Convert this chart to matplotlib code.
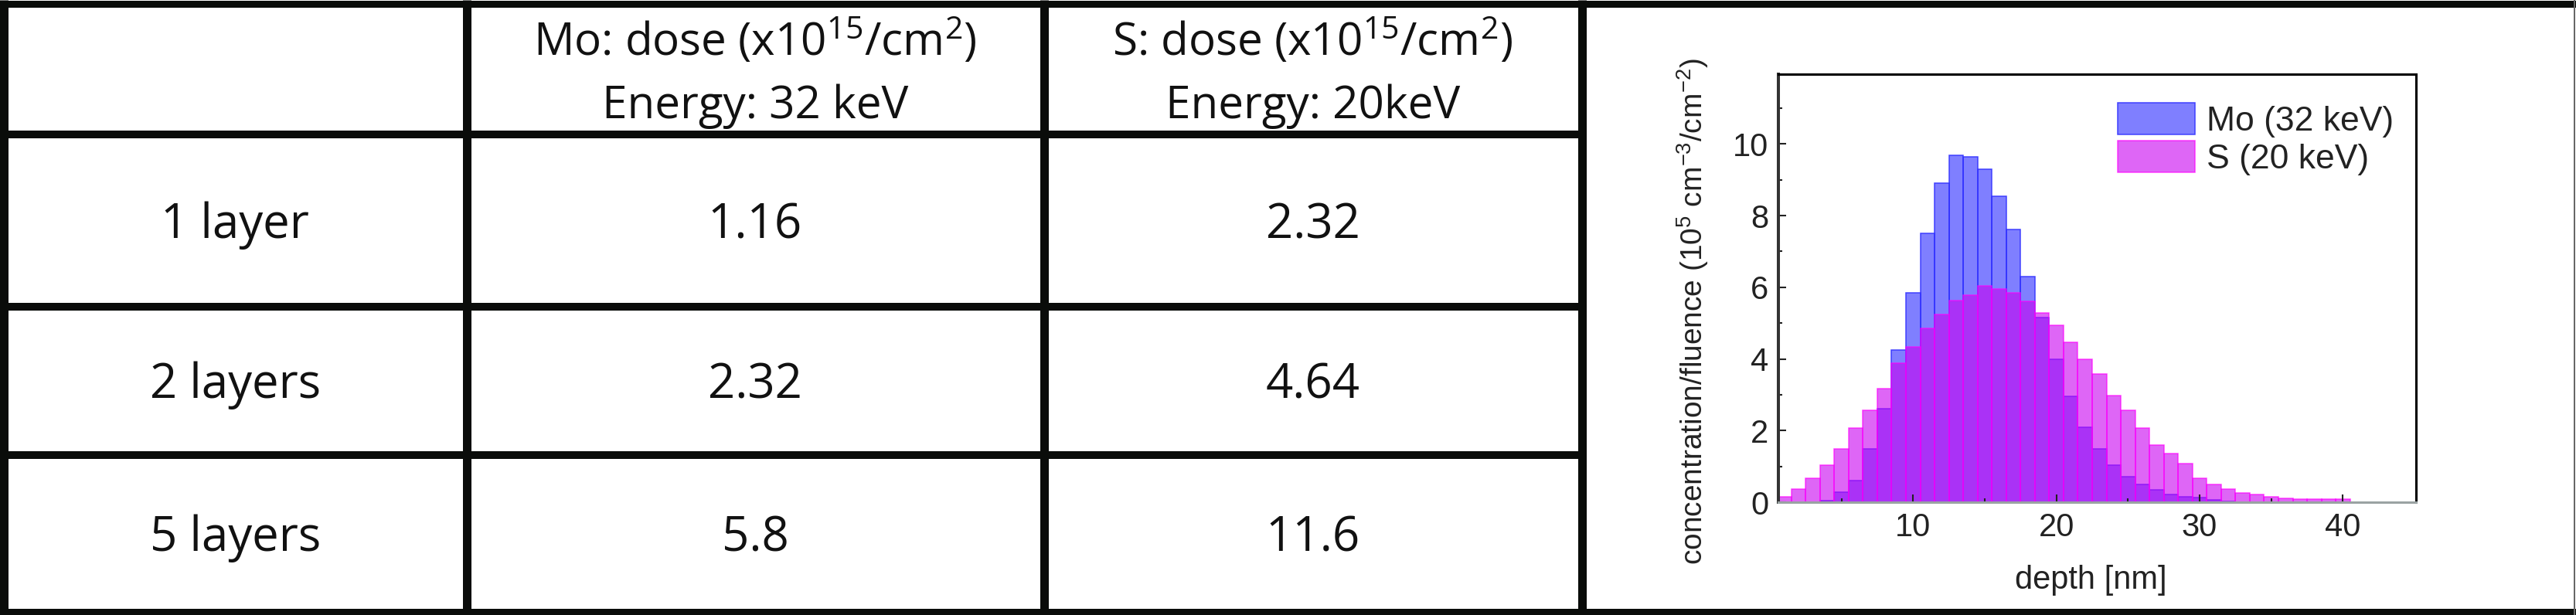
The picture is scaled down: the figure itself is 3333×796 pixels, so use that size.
import numpy as np
import matplotlib.pyplot as plt

params = {'mathtext.default': 'regular'}
plt.rcParams.update(params)
plt.rcParams['font.family'] = ['Liberation Sans', 'DejaVu Sans']

# table contents
rows = ['1 layer', '2 layers', '5 layers']
head_mo = ['Mo: dose (x10$^{15}$/cm$^{2}$)', 'Energy: 32 keV']
head_s = ['S: dose (x10$^{15}$/cm$^{2}$)', 'Energy: 20keV']
mo_dose = [1.16, 2.32, 5.8]
s_dose = [2.32, 4.64, 11.6]

# implantation profiles, 1 nm bins (10^5 cm^-3 / cm^-2)
depth = np.arange(1, 41)
mo_prof = [0, 0, 0, 0.05, 0.28, 0.61, 1.48, 2.62, 4.25, 5.85,
           7.50, 8.91, 9.68, 9.64, 9.30, 8.55, 7.61, 6.29, 5.15, 4.00,
           2.95, 2.09, 1.48, 1.03, 0.72, 0.49, 0.34, 0.22, 0.15, 0.12,
           0.06, 0.03, 0, 0, 0, 0, 0, 0, 0, 0]
s_prof = [0.15, 0.37, 0.67, 1.03, 1.48, 2.08, 2.57, 3.17, 3.89, 4.33,
          4.86, 5.25, 5.64, 5.79, 6.03, 5.95, 5.85, 5.60, 5.29, 4.93,
          4.47, 3.98, 3.59, 2.98, 2.57, 2.07, 1.60, 1.35, 1.08, 0.67,
          0.49, 0.37, 0.26, 0.22, 0.16, 0.11, 0.09, 0.08, 0.08, 0.08]

W, H = 3333, 796
fig = plt.figure(figsize=(W / 100, H / 100), dpi=100)

# ---- table drawn in pixel coordinates
tab = fig.add_axes([0, 0, 1, 1])
tab.set_xlim(0, W)
tab.set_ylim(H, 0)
tab.axis('off')

px = 0.72  # points per pixel at dpi 100
ink = '#0a0c0a'
col_x = [5, 603.5, 1350.5, 2046.5]
row_y = [4.5, 174, 396.5, 588.5, 791.5]

for y in (row_y[0], row_y[-1]):
    tab.plot([0, W], [y, y], color=ink, lw=9 * px, solid_capstyle='butt')
for y in row_y[1:-1]:
    tab.plot([0, col_x[-1]], [y, y], color=ink, lw=10 * px, solid_capstyle='butt')
for x in col_x:
    tab.plot([x, x], [0, H], color=ink, lw=11 * px, solid_capstyle='butt')
tab.plot([W - 2, W - 2], [0, H], color='#666666', lw=2 * px)

tfont = dict(family=['Open Sans', 'DejaVu Sans'], color='#111111', ha='center', va='baseline')
cx = [(col_x[i] + col_x[i + 1]) / 2 for i in range(3)]

for k, (a, b) in enumerate(zip(head_mo, head_s)):
    yb = 72 + 81 * k
    tab.text(cx[1], yb, a, fontsize=42, **tfont)
    tab.text(cx[2], yb, b, fontsize=42, **tfont)

for i in range(3):
    yb = (row_y[i + 1] + row_y[i + 2]) / 2 + 23
    tab.text(cx[0], yb, rows[i], fontsize=44.5, **tfont)
    tab.text(cx[1], yb, str(mo_dose[i]), fontsize=44.5, **tfont)
    tab.text(cx[2], yb, str(s_dose[i]), fontsize=44.5, **tfont)

# ---- histogram panel
ax = fig.add_axes([2301 / W, (H - 650) / H, 825 / W, 554 / H])
ax.bar(depth, mo_prof, width=1, facecolor=(0, 0, 1, 0.5),
       edgecolor=(0.2, 0.2, 1, 0.9), lw=1.1, label='Mo (32 keV)')
ax.bar(depth, s_prof, width=1, facecolor=(200 / 255, 0, 240 / 255, 0.6),
       edgecolor=(1, 0, 1, 0.7), lw=1.1, label='S (20 keV)')

ax.set_xlim(0.6, 45.1)
ax.set_ylim(0, 11.95)
ax.set_xticks([10, 20, 30, 40])
ax.set_xticks([5, 15, 25, 35], minor=True)
ax.set_yticks([0, 2, 4, 6, 8, 10])
ax.set_yticks([1, 3, 5, 7, 9, 11], minor=True)
ax.tick_params(which='both', direction='in', top=False, right=False,
               colors='#222222', labelsize=30, pad=9)
ax.tick_params(which='major', length=7, width=1.5)
ax.tick_params(which='minor', length=3.5, width=1.5)

for side in ['top', 'right']:
    ax.spines[side].set_color('black')
    ax.spines[side].set_linewidth(2.2)
ax.spines['left'].set_color('#333333')
ax.spines['left'].set_linewidth(2.9)
ax.spines['bottom'].set_color('#9aa3a3')
ax.spines['bottom'].set_linewidth(2.2)

ax.set_ylabel('concentration/fluence (10$^5$ cm$^{-3}$/cm$^{-2}$)', fontsize=28, color='#222222')
ax.yaxis.set_label_coords(-0.107, 0.446)
ax.set_xlabel('depth [nm]', fontsize=30, color='#222222')
ax.xaxis.set_label_coords(0.49, -0.146)

leg = ax.legend(loc='upper left', bbox_to_anchor=(0.532, 0.933), frameon=False,
                fontsize=32, handlelength=2.25, handleheight=1.03, handletextpad=0.34,
                labelspacing=0.1, borderpad=0, borderaxespad=0)
for t in leg.get_texts():
    t.set_color('#222222')

fig.savefig('out.png', dpi=100)
